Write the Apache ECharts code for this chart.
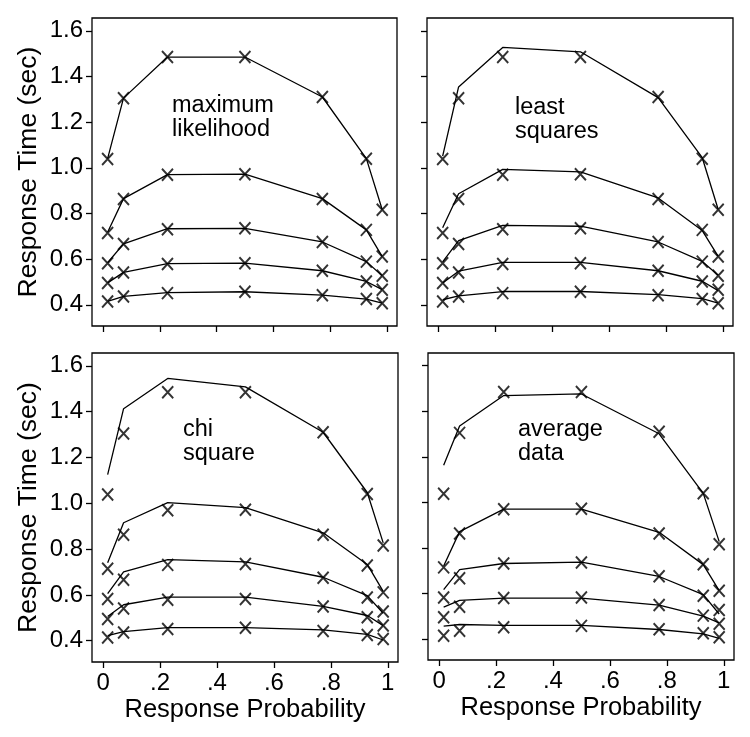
<!DOCTYPE html>
<html><head><meta charset="utf-8">
<script src="https://cdn.jsdelivr.net/npm/echarts@6/dist/echarts.min.js"></script>
<style>html,body{margin:0;padding:0;background:#fff}#c{width:750px;height:737px}</style>
</head><body><div id="c"></div>
<script>
// response probabilities (x positions of the conditions)
const probs = [0.016, 0.072, 0.227, 0.5, 0.773, 0.928, 0.984];
// tick values and labels
const xTicks = [0, 0.2, 0.4, 0.6, 0.8, 1];
const xTickLabels = ['0', '.2', '.4', '.6', '.8', '1'];
const yTicks = [0.4, 0.6, 0.8, 1.0, 1.2, 1.4, 1.6];
const yTickLabels = ['0.4', '0.6', '0.8', '1.0', '1.2', '1.4', '1.6'];
// observed RT quantiles (X markers), same in every panel
const obsQ90 = [1.038, 1.305, 1.485, 1.485, 1.310, 1.040, 0.816];
const obsQ70 = [0.714, 0.863, 0.969, 0.972, 0.863, 0.728, 0.611];
const obsQ50 = [0.582, 0.666, 0.731, 0.735, 0.675, 0.589, 0.527];
const obsQ30 = [0.495, 0.541, 0.579, 0.582, 0.549, 0.502, 0.466];
const obsQ10 = [0.414, 0.436, 0.451, 0.457, 0.442, 0.425, 0.407];
// model predictions (lines), one list per quantile per panel
const fitML = [
  [1.040, 1.305, 1.485, 1.485, 1.310, 1.040, 0.816],
  [0.718, 0.865, 0.970, 0.972, 0.865, 0.728, 0.611],
  [0.584, 0.667, 0.733, 0.735, 0.675, 0.589, 0.527],
  [0.496, 0.542, 0.580, 0.582, 0.549, 0.502, 0.466],
  [0.415, 0.437, 0.453, 0.457, 0.442, 0.425, 0.407]
];
const fitLS = [
  [1.051, 1.354, 1.527, 1.508, 1.307, 1.044, 0.817],
  [0.737, 0.886, 0.993, 0.982, 0.868, 0.725, 0.612],
  [0.588, 0.681, 0.748, 0.744, 0.675, 0.590, 0.529],
  [0.495, 0.547, 0.586, 0.586, 0.549, 0.503, 0.462],
  [0.422, 0.439, 0.458, 0.458, 0.444, 0.427, 0.407]
];
const fitChi = [
  [1.125, 1.413, 1.545, 1.508, 1.310, 1.047, 0.827],
  [0.740, 0.915, 1.003, 0.981, 0.871, 0.733, 0.615],
  [0.605, 0.700, 0.754, 0.744, 0.677, 0.597, 0.520],
  [0.506, 0.557, 0.590, 0.590, 0.550, 0.510, 0.466],
  [0.422, 0.440, 0.457, 0.457, 0.447, 0.428, 0.403]
];
const fitAvg = [
  [1.163, 1.335, 1.469, 1.476, 1.301, 1.039, 0.827],
  [0.720, 0.871, 0.970, 0.970, 0.868, 0.726, 0.612],
  [0.616, 0.704, 0.731, 0.737, 0.674, 0.594, 0.509],
  [0.539, 0.569, 0.579, 0.579, 0.548, 0.500, 0.470],
  [0.456, 0.463, 0.459, 0.459, 0.441, 0.422, 0.402]
];
const panelNames = ['maximum\nlikelihood', 'least\nsquares', 'chi\nsquare', 'average\ndata'];

const obsAll = [obsQ90, obsQ70, obsQ50, obsQ30, obsQ10];
const fits = [fitML, fitLS, fitChi, fitAvg];
const FONT = '"Liberation Sans", Arial, Helvetica, sans-serif';

const grids = [
  {left: 92, top: 18, width: 305, height: 308},
  {left: 427, top: 18, width: 306, height: 308},
  {left: 92, top: 353, width: 306, height: 309},
  {left: 428, top: 353, width: 306, height: 307}
];
const labelPos = [[172, 94], [515, 96], [183, 418], [518, 418]];

function lookup(vals, labels, v) {
  for (let i = 0; i < vals.length; i++) if (Math.abs(vals[i] - v) < 1e-6) return labels[i];
  return '';
}

const xAxes = [], yAxes = [], series = [], graphic = [];
grids.forEach((g, i) => {
  g.show = true; g.borderColor = '#000'; g.borderWidth = 1.3; g.containLabel = false;
  const bottom = i >= 2, left = (i % 2) === 0;
  xAxes.push({
    type: 'value', gridIndex: i, min: -0.039, max: 1.036,
    axisLine: {show: false, onZero: false},
    splitLine: {show: false},
    axisTick: {show: true, customValues: xTicks, length: 6, lineStyle: {color: '#000', width: 1.3}},
    axisLabel: {show: bottom, customValues: xTicks, formatter: v => lookup(xTicks, xTickLabels, v),
      fontSize: 24, color: '#000', fontFamily: FONT, margin: 9},
    name: bottom ? 'Response Probability' : '', nameLocation: 'middle', nameGap: 35,
    nameTextStyle: {fontSize: 25.5, color: '#000', fontFamily: FONT}
  });
  yAxes.push({
    type: 'value', gridIndex: i, min: 0.307, max: 1.656,
    axisLine: {show: false, onZero: false},
    splitLine: {show: false},
    axisTick: {show: true, customValues: yTicks, length: 6, lineStyle: {color: '#000', width: 1.3}},
    axisLabel: {show: left, customValues: yTicks, formatter: v => lookup(yTicks, yTickLabels, v),
      fontSize: 24, color: '#000', fontFamily: FONT, margin: 9},
    name: left ? 'Response Time (sec)' : '', nameLocation: 'middle', nameGap: 50,
    nameTextStyle: {fontSize: 26.5, color: '#000', fontFamily: FONT}
  });
  fits[i].forEach(f => {
    series.push({
      type: 'line', xAxisIndex: i, yAxisIndex: i, symbol: 'none', silent: true,
      data: probs.map((p, k) => [p, f[k]]),
      lineStyle: {color: '#000', width: 1.3}, z: 2
    });
  });
  const pts = [];
  obsAll.forEach(q => probs.forEach((p, k) => pts.push([p, q[k]])));
  series.push({
    type: 'scatter', xAxisIndex: i, yAxisIndex: i, data: pts,
    symbol: 'path://M0,0L10,12M10,0L0,12', symbolSize: [11, 12],
    itemStyle: {color: 'none', borderColor: '#000', borderWidth: 2}, z: 3
  });
  graphic.push({
    type: 'text', left: labelPos[i][0], top: labelPos[i][1],
    style: {text: panelNames[i], font: '23.5px ' + FONT, lineHeight: 24, fill: '#000'}
  });
});

const chart = echarts.init(document.getElementById('c'), null, {renderer: 'canvas'});
chart.setOption({
  animation: false, backgroundColor: '#fff',
  grid: grids, xAxis: xAxes, yAxis: yAxes, series: series, graphic: graphic
});
</script></body></html>
